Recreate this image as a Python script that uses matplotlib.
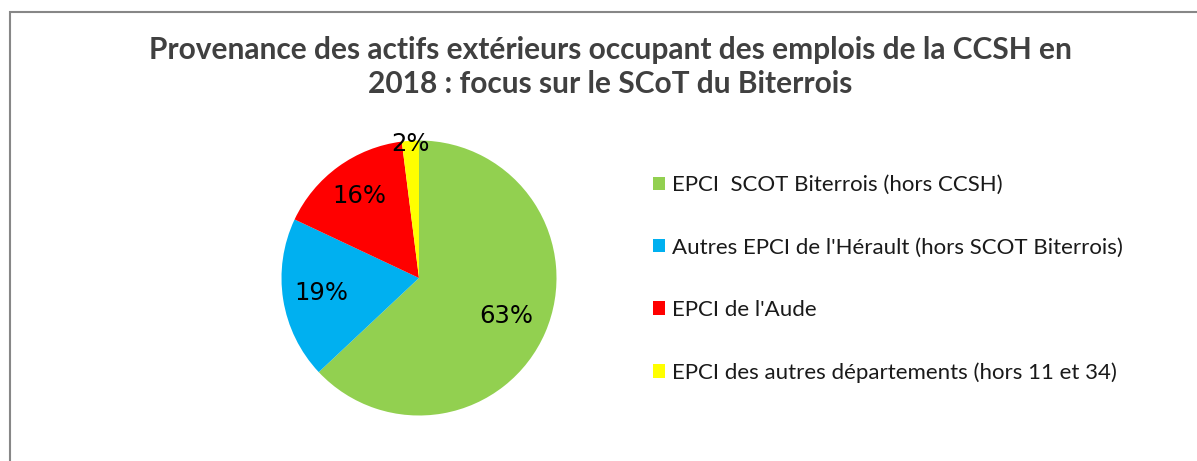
import matplotlib as mpl
mpl.use('Agg')
import numpy as np
from matplotlib import pyplot as plt
from matplotlib.patches import Rectangle

# origin of external workers (share of jobs, %)
categories = ["EPCI  SCOT Biterrois (hors CCSH)",
              "Autres EPCI de l'Hérault (hors SCOT Biterrois)",
              "EPCI de l'Aude",
              "EPCI des autres départements (hors 11 et 34)"]
shares = [63, 19, 16, 2]
colors = ['#92D050', '#00B0F0', '#FF0000', '#FFFF00']

title = ("Provenance des actifs extérieurs occupant des emplois de la CCSH en\n"
         "2018 : focus sur le SCoT du Biterrois")

W, H, DPI = 1197, 461, 100
f = plt.figure(figsize = (W / DPI, H / DPI), dpi = DPI)
f.patch.set_facecolor('white')

# chart area frame (only top and left edges visible)
f.patches.append(Rectangle((10 / W, -0.1), 1.2, (H - 12) / H + 0.1,
                           transform = f.transFigure, fill = False,
                           edgecolor = '#878787', lw = 1.5))

f.text(610 / W, 1 - 67 / H, title, ha = 'center', va = 'center',
       fontsize = 21.5, fontweight = 'bold', color = '#404040',
       family = 'Lato', linespacing = 1.3)

######################################################################
# pie
cx, cy, r = 419, H - 278, 137.5
ax = f.add_axes([(cx - r) / W, (cy - r) / H, 2 * r / W, 2 * r / H])
wedges, _ = ax.pie(shares, colors = colors, startangle = 90,
                   counterclock = False, radius = 1.0,
                   wedgeprops = dict(linewidth = 0))
ax.set_xlim(-1, 1)
ax.set_ylim(-1, 1)
ax.set_aspect('equal')
ax.axis('off')

# data labels, placed inside wedges (small slice near the rim)
labelDist = [0.69, 0.72, 0.74, 0.98]
for w, s, d in zip(wedges, shares, labelDist):
    th = np.deg2rad(0.5 * (w.theta1 + w.theta2))
    ax.text(d * np.cos(th), d * np.sin(th), '%d%%' % s,
            ha = 'center', va = 'center', fontsize = 17.5, color = 'black')

######################################################################
# legend
leg = f.legend(wedges, categories, loc = 'center left',
               bbox_to_anchor = (653 / W, 1 - 279 / H),
               frameon = False,
               prop = dict(family = 'Lato', size = 16),
               handlelength = 0.54, handleheight = 0.54,
               handletextpad = 0.32, labelspacing = 1.91,
               borderpad = 0, borderaxespad = 0)
for t in leg.get_texts():
    t.set_color('#1a1a1a')

f.savefig('out.png', dpi = DPI, facecolor = 'white')
plt.close(f)
